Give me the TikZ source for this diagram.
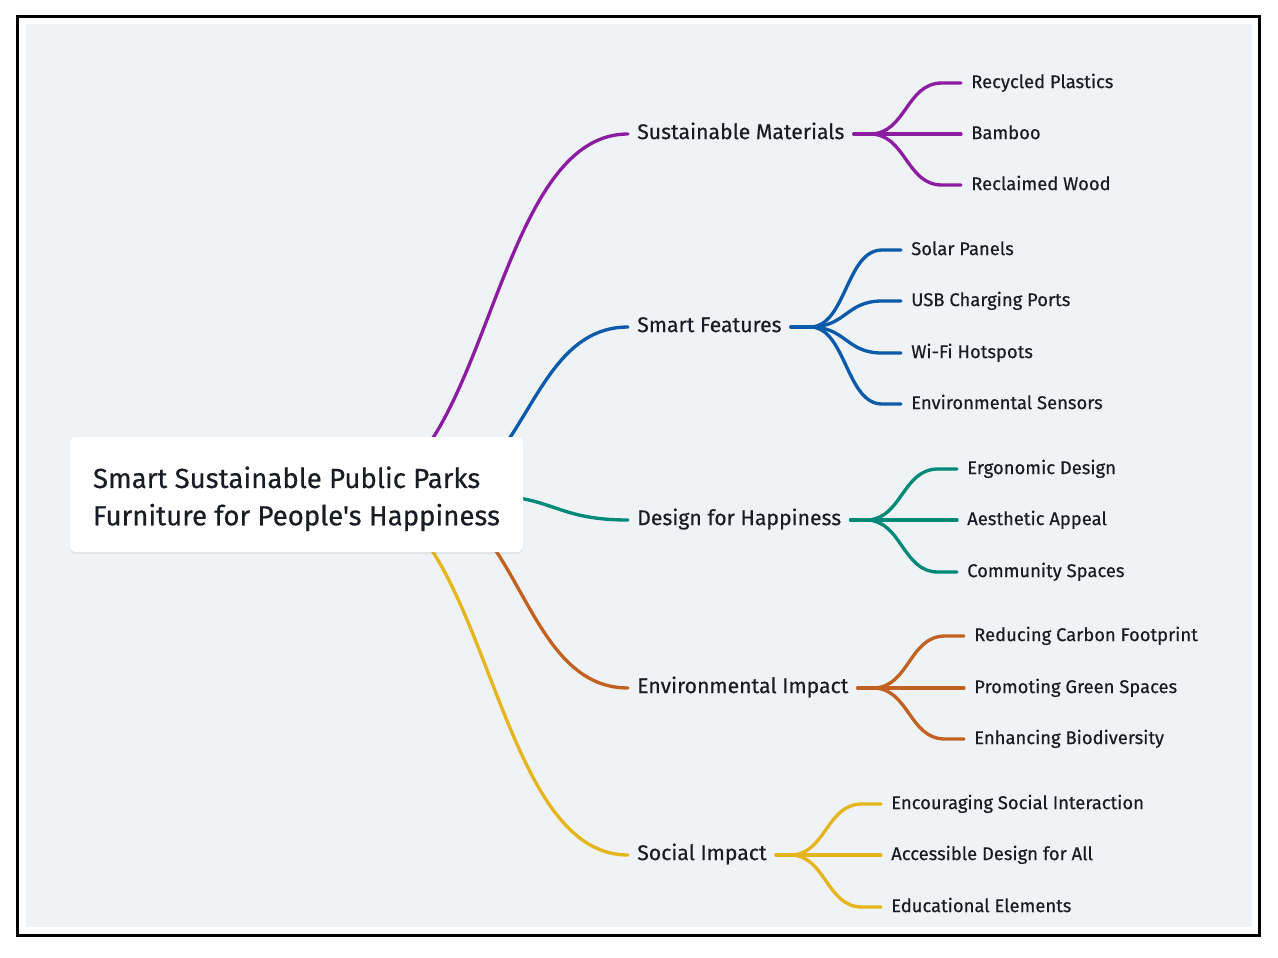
\documentclass[tikz,border=0pt]{standalone}
\usepackage{fontspec}
\setmainfont{Fira Sans}[Ligatures=TeXOff, FakeBold=0.45]
\usetikzlibrary{calc,shadows}
\definecolor{cpurple}{RGB}{140,28,162}
\definecolor{cblue}{RGB}{12,90,170}
\definecolor{cteal}{RGB}{0,137,120}
\definecolor{corange}{RGB}{194,98,32}
\definecolor{cyellow}{RGB}{229,181,30}
\definecolor{bggray}{RGB}{240,243,246}
\definecolor{ctext}{RGB}{25,28,36}
\pgfdeclarelayer{bg}
\pgfdeclarelayer{links}
\pgfsetlayers{bg,links,main}
\newcommand\mmleaf[3]{% color, fork, leaf
  \draw[link,#1] (#2) .. controls ($(#2)+(36,0)$) and ($(#2 |- #3.west)+(36,0)$) .. ($(#2 |- #3.west)+(72,0)$) -- (#3.west);}
\begin{document}
\begin{tikzpicture}[x=0.75pt,y=-0.75pt,
  link/.style={line width=2.5pt, line cap=round},
  rootbox/.style={fill=white, rounded corners=4.5pt, minimum width=339.75pt, minimum height=86.25pt,
    align=left, text=ctext, font=\fontsize{20.7}{28}\selectfont, inner sep=0pt,
    drop shadow={shadow xshift=0pt, shadow yshift=-1.5pt, opacity=0.06, fill=black}},
  branch/.style={anchor=west, inner xsep=6.75pt, inner ysep=0pt, text height=0.76em, text depth=0pt,
    text=ctext, font=\fontsize{15.9}{18}\selectfont},
  leaf/.style={anchor=west, inner xsep=7.5pt, inner ysep=0pt, text height=0.76em, text depth=0pt,
    text=ctext, font=\fontsize{13.8}{16}\selectfont}]
\useasboundingbox (0,0) rectangle (1278,957);
\begin{pgfonlayer}{bg}
\fill[white] (0,0) rectangle (1278,957);
\fill[bggray] (26,24) rectangle (1252,927);
\draw[line width=2.25pt] (17.5,16.5) rectangle (1259,935.3);
\end{pgfonlayer}

% root
\node[rootbox] (root) at (296.5,494.5) {\rule{0pt}{24.2pt}Smart Sustainable Public Parks\\Furniture for People's Happiness\rule[-6pt]{0pt}{0pt}};

% branch labels
\node[branch] (sm) at (628,134) {Sustainable Materials};
\node[branch] (sf) at (628,327) {Smart Features};
\node[branch] (dh) at (628,520) {Design for Happiness};
\node[branch] (ei) at (628,688) {Environmental Impact};
\node[branch] (si) at (628,855) {Social Impact};

% leaves
\node[leaf] (smA) at (961,83) {Recycled Plastics};
\node[leaf] (smB) at (961,134) {Bamboo};
\node[leaf] (smC) at (961,185) {Reclaimed Wood};

\node[leaf] (sfA) at (901,250) {Solar Panels};
\node[leaf] (sfB) at (901,301) {USB Charging Ports};
\node[leaf] (sfC) at (901,353) {Wi-Fi Hotspots};
\node[leaf] (sfD) at (901,404) {Environmental Sensors};

\node[leaf] (dhA) at (957,469) {Ergonomic Design};
\node[leaf] (dhB) at (957,520) {Aesthetic Appeal};
\node[leaf] (dhC) at (957,572) {Community Spaces};

\node[leaf] (eiA) at (964,636) {Reducing Carbon Footprint};
\node[leaf] (eiB) at (964,688) {Promoting Green Spaces};
\node[leaf] (eiC) at (964,739) {Enhancing Biodiversity};

\node[leaf] (siA) at (881,804) {Encouraging Social Interaction};
\node[leaf] (siB) at (881,855) {Accessible Design for All};
\node[leaf] (siC) at (881,907) {Educational Elements};

% sources hidden under root
\coordinate (srcP) at (350,495);
\coordinate (srcB) at (425,495);
\coordinate (srcT) at (480,495);
\coordinate (srcO) at (412,495);
\coordinate (srcY) at (350,495);

% forks
\coordinate (smF) at ($(smB.west)+(-91,0)$);
\coordinate (sfF) at ($(sfA.west |- sf.west)+(-91,0)$);
\coordinate (dhF) at ($(dhB.west)+(-91,0)$);
\coordinate (eiF) at ($(eiB.west)+(-91,0)$);
\coordinate (siF) at ($(siB.west)+(-91,0)$);

\begin{pgfonlayer}{links}
\draw[link,cpurple] (srcP) .. controls (489,495) and (489,134) .. (sm.west);
\draw[link,cblue]   (srcB) .. controls (526.5,495) and (526.5,327) .. (sf.west);
\draw[link,cteal]   (srcT) .. controls (554,495) and (554,520) .. (dh.west);
\draw[link,corange] (srcO) .. controls (520,495) and (520,688) .. (ei.west);
\draw[link,cyellow] (srcY) .. controls (489,495) and (489,855) .. (si.west);

\draw[link,cpurple] (sm.east) -- (smF);
\mmleaf{cpurple}{smF}{smA}
\mmleaf{cpurple}{smF}{smB}
\mmleaf{cpurple}{smF}{smC}

\draw[link,cblue] (sf.east) -- (sfF);
\mmleaf{cblue}{sfF}{sfA}
\mmleaf{cblue}{sfF}{sfB}
\mmleaf{cblue}{sfF}{sfC}
\mmleaf{cblue}{sfF}{sfD}

\draw[link,cteal] (dh.east) -- (dhF);
\mmleaf{cteal}{dhF}{dhA}
\mmleaf{cteal}{dhF}{dhB}
\mmleaf{cteal}{dhF}{dhC}

\draw[link,corange] (ei.east) -- (eiF);
\mmleaf{corange}{eiF}{eiA}
\mmleaf{corange}{eiF}{eiB}
\mmleaf{corange}{eiF}{eiC}

\draw[link,cyellow] (si.east) -- (siF);
\mmleaf{cyellow}{siF}{siA}
\mmleaf{cyellow}{siF}{siB}
\mmleaf{cyellow}{siF}{siC}
\end{pgfonlayer}
\end{tikzpicture}
\end{document}
